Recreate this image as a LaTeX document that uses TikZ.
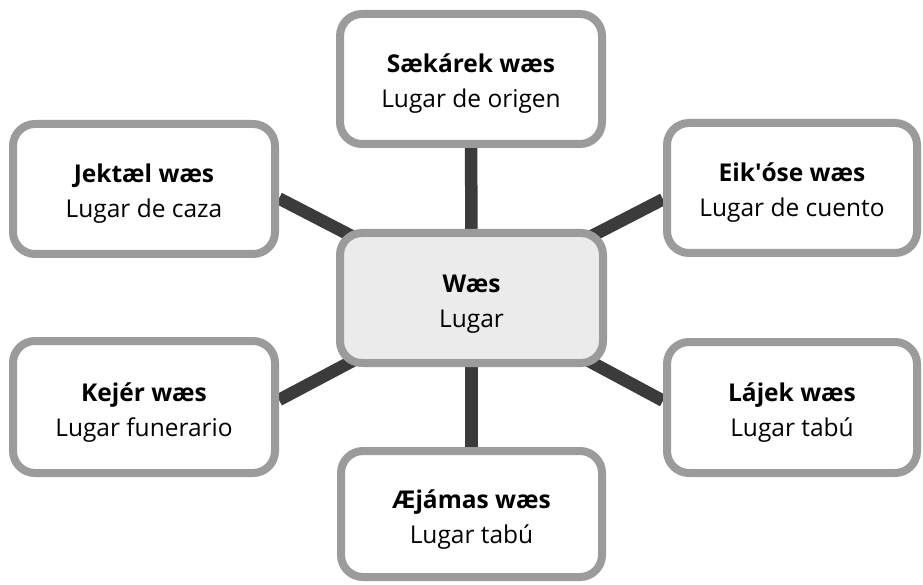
\documentclass[tikz,border=0pt]{standalone}
\usepackage{fontspec}
\setmainfont{Open Sans}
\usepackage{xcolor}
\usepackage{tikz}
\usetikzlibrary{positioning,backgrounds}

\definecolor{boxgray}{HTML}{9B9B9B}
\definecolor{linkgray}{HTML}{3B3B3B}
\definecolor{hubfill}{HTML}{EBEBEB}

% two lines of a box: bold name, plain meaning
\newcommand{\placetext}[2]{\rule{0pt}{30pt}\textbf{#1}\\#2\rule[-7pt]{0pt}{7pt}}

\begin{document}
\begin{tikzpicture}[x=1pt, y=-1pt,
    place/.style={draw=boxgray, line width=8pt, rounded corners=22pt, fill=white,
        align=center, inner sep=0pt, text=black, font=\fontsize{24.5}{35}\selectfont},
    link/.style={draw=linkgray, line width=12.5pt}]
    \useasboundingbox (0,0) rectangle (923,585);

    % hub
    \node[place, fill=hubfill, minimum width=263pt, minimum height=130pt] (waes) at (471.5,298) {\placetext{Wæs}{Lugar}};

    % top and bottom
    \node[place, minimum width=262pt, minimum height=130pt] (sakarek) at (471,79) {\placetext{Sækárek wæs}{Lugar de origen}};
    \node[place, minimum width=261pt, minimum height=126pt] (aejamas) at (471.5,514) {\placetext{Æjámas wæs}{Lugar tabú}};

    % left side
    \node[place, minimum width=262pt, minimum height=130pt] (jektael) at (144,189) {\placetext{Jektæl wæs}{Lugar de caza}};
    \node[place, minimum width=262pt, minimum height=132pt] (kejer) at (144,407) {\placetext{Kejér wæs}{Lugar funerario}};

    % right side
    \node[place, minimum width=250pt, minimum height=130pt] (eikose) at (792,188) {\placetext{Eik\textquotesingle óse wæs}{Lugar de cuento}};
    \node[place, minimum width=250pt, minimum height=131pt] (lajek) at (792,407.5) {\placetext{Lájek wæs}{Lugar tabú}};

    % connectors behind the boxes
    \begin{scope}[on background layer]
        \draw[link] (waes.center) -- (sakarek.center);
        \draw[link] (waes.center) -- (aejamas.center);
        \draw[link] (waes.center) -- (jektael.356);
        \draw[link] (waes.center) -- (kejer.3);
        \draw[link] (waes.center) -- (eikose.185);
        \draw[link] (waes.center) -- (lajek.177);
    \end{scope}
\end{tikzpicture}
\end{document}
